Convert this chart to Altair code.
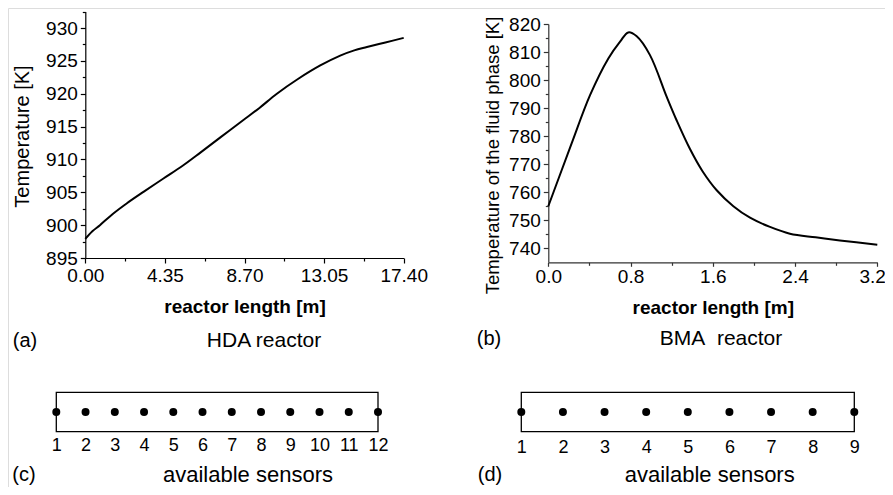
import altair as alt
import pandas as pd

FONT = "Liberation Sans"

# ---------------- data ----------------
# (a) HDA reactor temperature profile
hda_length = [0.0, 0.4, 0.8, 1.5, 2.26, 3.2, 4.27, 5.3, 6.27, 7.4, 8.64, 9.5,
              10.47, 11.6, 12.84, 13.93, 14.7, 15.39, 16.4, 17.4]
hda_temp = [897.9, 899.1, 900.0, 901.7, 903.3, 905.1, 907.1, 909.0, 911.0, 913.4,
            916.0, 917.8, 920.0, 922.2, 924.3, 925.8, 926.6, 927.1, 927.8, 928.5]

# (b) BMA reactor fluid-phase temperature profile
bma_length = [0.0, 0.1, 0.227, 0.406, 0.584, 0.7, 0.778, 0.86, 0.989, 1.152, 1.25,
              1.377, 1.5, 1.638, 1.8, 1.962, 2.15, 2.35, 2.6, 2.836, 3.2]
bma_temp = [755.0, 764.9, 777.4, 794.6, 807.7, 813.8, 817.0, 815.6, 808.9, 794.0,
            785.5, 775.5, 767.5, 760.7, 755.0, 750.9, 747.7, 745.2, 743.9, 742.8,
            741.3]

# (c), (d) available sensors
hda_sensors = list(range(1, 13))
bma_sensors = list(range(1, 10))

# axis ticks
hda_x_ticks = [0.0, 4.35, 8.70, 13.05, 17.40]
hda_x_minor = [2.175, 6.525, 10.875, 15.225]
hda_y_ticks = [895, 900, 905, 910, 915, 920, 925, 930]
hda_y_minor = [897.5, 902.5, 907.5, 912.5, 917.5, 922.5, 927.5, 932.5]
bma_x_ticks = [0.0, 0.8, 1.6, 2.4]
bma_x_last = [3.2]
bma_x_minor = [0.4, 1.2, 2.0, 2.8]
bma_y_ticks = [740, 750, 760, 770, 780, 790, 800, 810, 820]
bma_y_minor = [745, 755, 765, 775, 785, 795, 805, 815]

# ---------------- layout (pixels inside the canvas) ----------------
W, H = 877, 479
HDA_XR = [77.3, 395.7]
HDA_YR = [250.0, 3.6]
BMA_XR = [540.3, 869.3]
BMA_YR = [254.3, 16.0]
HDA_SXR = [48.3, 370.0]
BMA_SXR = [513.3, 846.3]
STRIP_YR = [423.7, 384.3]

hda_df = pd.DataFrame({"length": hda_length, "temp": hda_temp})
bma_df = pd.DataFrame({"length": bma_length, "temp": bma_temp})


def sc(domain, rng):
    return alt.Scale(domain=domain, range=rng, nice=False, zero=False)


def common(axcolor):
    return dict(domainColor=axcolor, tickColor=axcolor, labelColor="black",
                labelFont=FONT, labelFontSize=19, titleFont=FONT,
                titleColor="black", grid=False, labelOverlap=False,
                domainWidth=1.2, tickWidth=1.2)


def profile(df, xdom, xr, ydom, yr, xticks, xminor, yticks, yminor, xfmt,
            ytitle, xoff, yoff, axcolor, x_lpad, x_tsize, ytpad, ytsize, ytitle_y):
    line = alt.Chart(df).mark_line(color="black", strokeWidth=2,
                                   interpolate="catmull-rom").encode(
        x=alt.X("length:Q", scale=sc(xdom, xr),
                axis=alt.Axis(orient="bottom", offset=xoff, values=xticks,
                              format=xfmt, title="reactor length [m]",
                              tickSize=x_tsize, labelPadding=x_lpad,
                              titleFontSize=19, titleFontWeight="bold",
                              titlePadding=12, labelFlush=False,
                              **common(axcolor))),
        y=alt.Y("temp:Q", scale=sc(ydom, yr),
                axis=alt.Axis(orient="left", offset=yoff, values=yticks,
                              format="d", title=ytitle, tickSize=5,
                              labelPadding=3, titleFontSize=ytsize,
                              titleFontWeight="normal", titlePadding=ytpad,
                              titleY=ytitle_y, labelFlush=False,
                              **common(axcolor))),
    )
    minor_common = dict(labels=False, domain=False, title=None, grid=False,
                        tickSize=3, tickColor=axcolor, tickWidth=1.2)
    minor = alt.Chart(df).mark_line(opacity=0).encode(
        x=alt.X("length:Q", scale=sc(xdom, xr),
                axis=alt.Axis(orient="bottom", offset=xoff, values=xminor,
                              **minor_common)),
        y=alt.Y("temp:Q", scale=sc(ydom, yr),
                axis=alt.Axis(orient="left", offset=yoff, values=yminor,
                              **minor_common)),
    )
    return [line, minor]


def last_tick(df, xdom, xr, values, xfmt, xoff, axcolor, x_lpad, x_tsize):
    # the end label of the axis, kept inside the page
    return alt.Chart(df).mark_line(opacity=0).encode(
        x=alt.X("length:Q", scale=sc(xdom, xr),
                axis=alt.Axis(orient="bottom", offset=xoff, values=values,
                              format=xfmt, title=None, domain=False,
                              tickSize=x_tsize, labelPadding=x_lpad,
                              labelFlush=True, labelFlushOffset=8,
                              **common(axcolor))),
    )


def strip(sensors, xr, lpad):
    n0, n1 = min(sensors), max(sensors)
    box_df = pd.DataFrame({"start": [n0], "end": [n1], "lo": [0.0], "hi": [1.0]})
    dots_df = pd.DataFrame({"sensor": sensors, "mid": [0.5] * len(sensors)})
    box = alt.Chart(box_df).mark_rect(fillOpacity=0, stroke="black",
                                      strokeWidth=1.3).encode(
        x=alt.X("start:Q", scale=sc([n0, n1], xr), axis=None),
        x2="end:Q",
        y=alt.Y("lo:Q", scale=sc([0, 1], STRIP_YR), axis=None),
        y2="hi:Q",
    )
    dots = alt.Chart(dots_df).mark_circle(color="black", opacity=1,
                                          size=64).encode(
        x=alt.X("sensor:Q", scale=sc([n0, n1], xr),
                axis=alt.Axis(orient="bottom", offset=STRIP_YR[0] - H,
                              values=sensors, format="d", domain=False,
                              ticks=False, grid=False, labelPadding=lpad,
                              labelFont=FONT, labelFontSize=18,
                              labelColor="black", labelFlush=False,
                              labelOverlap=False, title=None)),
        y=alt.Y("mid:Q", scale=sc([0, 1], STRIP_YR), axis=None),
    )
    return [box, dots]


def note(txt, x, y, size, align="center"):
    return alt.Chart(pd.DataFrame({"t": [txt]})).mark_text(
        font=FONT, fontSize=size, color="black", align=align,
        baseline="alphabetic").encode(
        text="t:N", x=alt.value(x), y=alt.value(y))


layers = []
layers += profile(hda_df, [0, 17.4], HDA_XR, [895, 932.5], HDA_YR,
                  hda_x_ticks, hda_x_minor, hda_y_ticks, hda_y_minor, ".2f",
                  "Temperature [K]", HDA_YR[0] - H, -HDA_XR[0], "black",
                  3, 5, 13, 20, 128)
layers += profile(bma_df, [0, 3.2], BMA_XR, [735, 820], BMA_YR,
                  bma_x_ticks, bma_x_minor, bma_y_ticks, bma_y_minor, ".1f",
                  "Temperature of the fluid phase [K]", BMA_YR[0] - H,
                  -BMA_XR[0], "#333333", 1, 4, 6, 18.5, 147)
layers += [last_tick(bma_df, [0, 3.2], BMA_XR, bma_x_last, ".1f",
                     BMA_YR[0] - H, "#333333", 1, 4)]
layers += strip(hda_sensors, HDA_SXR, 5)
layers += strip(bma_sensors, BMA_SXR, 7)
layers += [
    note("(a)", 17, 339, 20),
    note("HDA reactor", 256, 339, 21),
    note("(b)", 481, 337, 20),
    note("BMA\u00a0 reactor", 713, 337, 21),
    note("available sensors", 240, 473.7, 22),
    note("available sensors", 701.7, 473.7, 22),
    note("(c)", 16, 473, 20),
    note("(d)", 482, 473, 20),
]

chart = alt.layer(*layers).resolve_scale(
    x="independent", y="independent"
).properties(
    width=W, height=H, padding=0, autosize=alt.AutoSizeParams(type="none")
).configure_view(stroke=None).configure(background="white")

chart.save("out.html", embed_options={"renderer": "svg", "actions": False})
